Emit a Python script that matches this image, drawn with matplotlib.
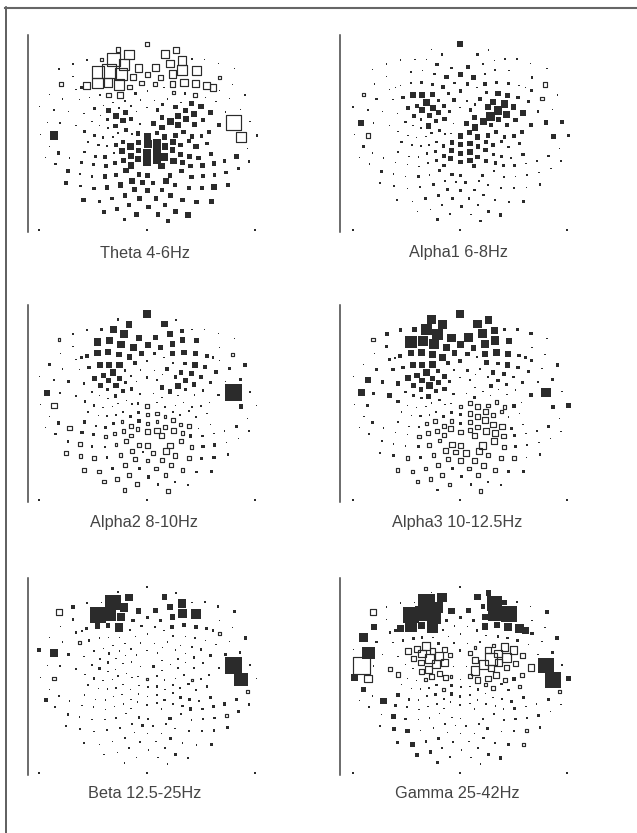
import matplotlib
matplotlib.use('Agg')
import matplotlib.pyplot as plt
import numpy as np

plt.rcParams['font.family'] = ['Liberation Sans', 'DejaVu Sans']

W, H = 637, 833
INK = '#2b2b2b'

# sensor positions, units are arbitrary (same in all six maps), y runs downwards
sensor_x = [380, 293, 466, 326, 433, 279, 485, 243, 200, 515, 553, 158,
            311, 449, 594, 355, 405, 486, 528, 232, 267, 116, 643, 302,
            339, 382, 421, 456, 158, 598, 121, 199, 231, 263, 296, 363,
            403, 456, 491, 526, 559, 637, 167, 184, 328, 381, 431, 578,
            597, 88, 127, 207, 238, 265, 298, 345, 459, 495, 524, 555, 628, 675,
            177, 314, 361, 402, 441, 481, 514, 587, 57, 102, 145, 191, 222,
            250, 278, 297, 332, 380, 426, 465, 495, 542, 570, 616, 660, 240, 265,
            287, 316, 349, 411, 425, 473, 521, 333, 308, 262, 400, 450, 496, 548,
            81, 119, 167, 215, 238, 263, 285, 360, 425, 473, 522, 595, 640, 689,
            60, 101, 193, 222, 248, 277, 293, 318, 335, 353, 381, 410, 433, 465, 490,
            515, 543, 567, 662, 709, 88, 203, 234, 261, 287, 308, 330, 355, 382,
            410, 434, 458, 480, 505, 527, 560, 682, 115, 192, 280, 305, 355, 381,
            410, 457, 480, 507, 535, 571, 648, 76, 148, 226, 255, 332, 433, 612,
            686, 105, 184, 220, 256, 283, 310, 352, 381, 410, 459, 487, 332, 580,
            423, 511, 546, 655, 143, 178, 215, 254, 287, 317, 356, 382, 449, 483,
            513, 548, 583, 618, 138, 180, 221, 260, 300, 335, 367, 398, 437, 464,
            505, 544, 581, 622, 343, 382, 424, 190, 237, 276, 314, 358, 407, 451,
            486, 528, 573, 326, 385, 435, 251, 291, 349, 413, 465, 503, 312, 442]
sensor_y = [42, 58, 60, 73, 72, 88, 92, 88, 90, 88, 88, 102,
            103, 101, 100, 114, 112, 120, 122, 126, 122, 118, 116, 132,
            142, 134, 143, 132, 140, 142, 161, 167, 159, 157, 163, 159,
            161, 161, 157, 161, 167, 163, 178, 173, 171, 183, 172, 172,
            181, 193, 207, 202, 195, 194, 194, 190, 188, 190, 195, 202, 205, 195,
            208, 212, 210, 212, 207, 217, 221, 215, 230, 240, 245, 250, 234,
            227, 218, 234, 228, 232, 223, 231, 241, 230, 248, 245, 238, 257, 241,
            257, 248, 245, 240, 262, 258, 253, 267, 272, 268, 280, 274, 268, 270,
            278, 279, 287, 275, 286, 294, 288, 281, 292, 285, 284, 284, 277, 275,
            313, 316, 304, 316, 322, 320, 309, 300, 312, 310, 318, 308, 320, 316, 306,
            320, 318, 306, 320, 316, 349, 335, 345, 347, 344, 335, 348, 337, 342,
            340, 349, 335, 344, 333, 350, 340, 355, 368, 365, 369, 363, 362, 370,
            365, 360, 373, 378, 384, 372, 378, 381, 383, 378, 381, 378, 380, 392,
            393, 401, 397, 402, 408, 399, 392, 386, 395, 390, 392, 398, 405, 400,
            407, 407, 407, 415, 423, 431, 438, 439, 434, 421, 433, 436, 436, 422,
            440, 438, 434, 427, 458, 467, 474, 471, 464, 452, 456, 458, 452, 465,
            474, 474, 471, 463, 477, 480, 480, 509, 514, 505, 495, 505, 505, 495,
            509, 515, 513, 524, 530, 524, 544, 537, 552, 552, 544, 554, 569, 572]

# magnitude per sensor, negative values are the open squares
theta = [-12, -12, -16, -26, -22, -36, -24, -8, 3, 6, 3, 2,
         -28, -20, 1, -20, -18, -26, -24, -32, -38, 5, 3, -30,
         -16, -12, -12, -20, 3, -7, -10, -20, -28, -24, -28, -12,
         -10, -15, -20, -20, -18, 3, 2, 7, -12, 3, 3, -18,
         4, 2, 4, 4, 5, -12, -16, 8, -7, 6, -10, 3, 3, 6,
         1, 5, 3, 3, 3, 5, 14, 2, 3, 6, 1, 1, 8,
         3, 3, 5, 6, 3, 7, 12, 14, 14, 13, 4, 4, 3, 12,
         15, 13, 3, 9, 12, 18, 16, 10, 14, 7, 13, 18, 16, 9,
         2, 1, 2, 2, 4, 6, 12, 6, 15, 16, 13, 10, -40, 2,
         1, 22, 9, 7, 8, 6, 7, 10, 6, 12, 18, 12, 15, 14, 12,
         13, 9, 10, -28, 6, 2, 6, 7, 6, 9, 10, 18, 14, 22,
         22, 18, 15, 12, 10, 14, 10, 2, 9, 7, 6, 15, 14, 22,
         20, 15, 13, 14, 12, 10, 14, 2, 3, 7, 10, 16, 20, 9,
         7, 7, 8, 9, 11, 11, 14, 16, 22, 22, 18, 13, 18, 11,
         18, 12, 13, 8, 10, 6, 7, 12, 11, 15, 13, 13, 13, 12,
         12, 10, 9, 10, 10, 7, 9, 13, 14, 14, 13, 12, 14, 12,
         10, 10, 15, 11, 12, 12, 10, 12, 9, 10, 13, 13, 12, 12,
         12, 12, 14, 11, 12, 10, 11, 10, 12, 12, 12, 14, 8, 11]
alpha1 = [16, 3, 1, 7, 8, 1, 1, 4, 3, 5, 5, 3,
          10, 6, 3, 7, 11, 2, 2, 3, 1, 2, 1, 7,
          11, 12, 12, 6, 2, 6, 5, 3, 5, 9, 7, 7,
          10, 10, 9, 9, 3, -12, 3, 3, 9, 9, 4, 3,
          8, -10, 6, 10, 16, 16, 13, 10, 8, 14, 13, 10, -10, 4,
          3, 9, 11, 5, 12, 16, 20, 9, 5, 6, 1, 3, 12,
          12, 18, 16, 12, 5, 7, 16, 22, 16, 16, 7, 2, 10, 16,
          13, 14, 9, 9, 14, 24, 17, 12, 11, 7, 15, 19, 13, 12,
          16, 2, 3, 7, 3, 5, 15, 3, 17, 11, 11, 10, 12, 12,
          1, -12, 5, 4, 3, 3, 7, 8, 4, 3, 15, 13, 15, 13, 10,
          10, 9, 11, 13, 7, 6, 7, 5, 6, 5, 7, 10, 12, 14,
          15, 11, 12, 10, 8, 7, 9, 4, 3, 6, 7, 8, 14, 12,
          16, 12, 8, 8, 4, 9, 6, 3, 2, 2, 4, 10, 12, 5,
          5, 2, 1, 3, 3, 4, 8, 14, 12, 14, 9, 9, 9, 2,
          10, 8, 8, 5, 7, 1, 1, 8, 3, 8, 9, 9, 9, 6,
          5, 3, 5, 5, 5, 3, 2, 5, 8, 7, 6, 8, 7, 6,
          6, 6, 4, 7, 9, 8, 6, 6, 3, 8, 8, 8, 7, 6,
          7, 7, 8, 5, 8, 6, 3, 4, 5, 4, 8, 9, 8, 6]
alpha2 = [20, 7, 6, 17, 17, 19, 11, 7, 3, 3, 3, 7,
          22, 15, 3, 16, 15, 14, 12, 20, 20, -6, 2, 19,
          18, 16, 14, 15, 3, 2, 4, 10, 17, 16, 15, 13,
          8, 14, 14, 14, 10, -7, 3, 7, 15, 5, 4, 8,
          3, 9, 2, 10, 16, 16, 17, 11, 5, 10, 18, 11, 8, 11,
          3, 8, 4, 3, 10, 11, 14, 10, 2, 6, 7, 8, 14,
          13, 18, 14, 7, 6, 3, 9, 14, 12, 8, 3, 9, 13, 15,
          14, 9, 3, 5, 11, 17, 11, 9, 10, 9, 2, 11, 7, 8,
          16, 2, 5, 7, 3, 3, 9, 5, 3, 3, 4, 7, 44, 4,
          1, -15, 6, 6, 2, 2, 3, 2, 6, 7, -10, 3, 6, 2, 3,
          5, 5, 2, 13, 1, 3, 5, 3, 6, 4, 6, 8, 9, -8,
          -10, -8, 5, 5, 5, 4, 2, 2, 9, 9, 7, -8, 10, -8,
          -8, -10, -9, -10, 2, 2, 8, 2, -12, 6, 8, -11, -10, 3,
          5, 7, 10, 9, -7, -9, -9, -9, -13, -14, -13, -9, -9, 5,
          -13, 9, 7, 3, 7, -11, 8, 5, -8, -11, -11, -12, -14, -11,
          -9, 9, 9, 3, -10, -9, -10, 7, -9, -9, 6, -10, -14, -13,
          -10, 7, 9, 6, -10, -9, -10, -11, -10, 7, -11, 9, -9, -10,
          -9, 7, 9, -10, 9, -9, -9, -10, -10, 8, 6, 6, -9, -10]
alpha3 = [19, 24, 19, 24, 22, 30, 20, 14, 9, 8, 8, 11,
          30, 23, 10, 23, 24, 24, 16, 34, 27, -10, 2, 26,
          20, 20, 15, 23, 9, 4, 2, 11, 16, 19, 20, 15,
          12, 17, 18, 15, 9, 3, 9, 5, 19, 10, 5, 8,
          9, 2, 8, 10, 15, 16, 19, 11, 13, 10, 15, 10, 3, 9,
          9, 10, 5, 7, 3, 11, 11, 7, 2, 15, 10, 11, 15,
          14, 18, 14, 14, 2, 3, 7, 10, 6, 7, 5, 10, 14, 15,
          18, 14, 7, 6, 3, 10, 10, 11, 11, 12, 2, 2, 4, 3,
          18, 8, 13, 6, 8, 7, 13, 6, 8, 3, 3, 11, 26, 1,
          1, 8, 10, 3, 1, 1, 4, 7, 3, 4, -8, -9, -14, -10, -9,
          -10, 9, 2, 11, 12, 5, 4, 2, 7, 4, 6, 8, 9, 8,
          -11, -14, -14, -12, -8, 2, 2, 2, 8, 5, -8, -11, -9, 7,
          -11, -16, -15, -14, 9, 2, 7, 2, 2, 3, 5, -11, -12, 5,
          3, 5, 2, 3, -9, -11, -12, -13, -12, -12, -17, -16, -11, 2,
          -13, -12, 8, 3, 6, 1, 4, 8, -10, -7, -14, -13, -18, -14,
          -11, 7, 3, 5, 7, 8, -10, 7, -10, -13, -12, -14, -16, -12,
          -11, -10, 3, 6, -11, -12, -12, -9, -9, -9, -10, 8, -10, -12,
          -10, 8, 8, -9, 8, -10, -10, -10, -9, 7, 6, 5, 6, -10]
beta = [3, 5, 5, 20, 14, 42, 24, 3, 2, 3, 6, 9,
        24, 16, 6, 14, 12, 24, 26, 42, 38, -16, 7, 22,
        10, 7, 7, 15, 7, 2, 4, 7, 15, 12, 22, 7,
        5, 10, 11, 11, 7, 1, 6, 5, 6, 2, 2, 8,
        -7, 2, 2, 6, 3, 3, 3, 2, 6, 3, 6, 4, 3, 9,
        -7, 2, 1, 2, 3, 2, 5, 2, 10, 22, 8, 5, 6,
        3, 2, 2, 1, 4, 2, 2, 2, 7, 7, 7, 6, 6, 6,
        2, 1, 4, 3, 4, 1, 7, 3, 1, 6, 7, 2, 3, 7,
        3, 3, 6, 7, 8, 2, 3, 1, 3, 5, 6, 6, 44, 6,
        2, -9, 5, 6, 5, 2, 5, 1, 2, 2, -6, 4, 4, 3, 5,
        -7, 6, 6, 35, 2, 2, 7, 2, 3, 3, 2, 2, 5, 5,
        6, 2, 6, 6, 7, 5, 7, -9, 5, 4, 3, 2, 3, 3,
        6, 6, 7, 7, 5, 7, 7, 10, 2, 3, 4, 2, 7, 9,
        8, 5, 5, 4, 3, 2, 2, 2, 5, 4, 6, 7, 2, 8,
        2, 9, 7, 7, 7, 2, 3, 3, 3, 2, 7, 5, 9, 6,
        3, 6, 7, -7, 5, 6, 2, 5, 5, 5, 7, 2, 6, 4,
        5, 5, 7, 7, 3, 3, 3, 5, 3, 4, 6, 5, 4, 7,
        4, 4, 7, 6, 3, 5, 2, 2, 4, 4, 7, 6, 3, 1]
gamma = [2, 2, 14, 26, 17, 44, 40, 3, 2, 14, 6, 2,
         30, 12, 4, 18, 14, 40, 44, 44, 40, -16, 10, 38,
         10, 7, 9, 18, 2, 2, 16, 18, 32, 18, 30, 2,
         3, 18, 16, 22, 24, 2, 6, 8, 7, 3, 6, 18,
         10, 22, 6, 6, 8, 7, 3, 4, 2, 7, 7, 7, 3, 11,
         2, 7, 5, 2, 7, -7, -20, 3, 1, 34, 2, 5, -17,
         -16, -22, -15, -14, 6, -7, -15, -20, -20, -14, 3, 7, -14, -20,
         -25, -20, -10, -12, -16, -32, -24, -18, -20, -14, 3, -24, -18, -14,
         -45, 1, -10, 3, 3, -13, -19, 3, -22, -17, -13, -18, 42, 7,
         18, -20, -11, 3, 1, -8, -13, -13, -13, -7, 3, -11, -15, -14, -16,
         -11, 9, -12, 42, 12, 15, 2, 2, 3, 5, 7, -9, 8, 6,
         5, 6, -8, -9, 7, 6, -7, -9, 1, 10, 5, 9, 9, 6,
         5, 3, 5, 6, 8, 8, 9, 1, 17, 7, 4, 5, 2, 3,
         1, 6, 9, 6, 3, 2, 3, 3, 5, 3, 3, 3, 3, 2,
         3, 3, 8, 3, 2, 13, 6, 2, 1, 1, 1, 2, 5, 4,
         4, 6, 4, 7, 7, 10, 11, 4, 4, 5, 3, 3, 6, 9,
         3, 6, -7, 7, 3, 3, 3, 8, 13, 6, 7, 5, 3, 6,
         3, 8, -9, 7, 4, 4, 11, 10, 6, 3, 8, 9, 8, 1]

titles = ['Theta 4-6Hz', 'Alpha1 6-8Hz', 'Alpha2 8-10Hz',
          'Alpha3 10-12.5Hz', 'Beta 12.5-25Hz', 'Gamma 25-42Hz']
maps = [theta, alpha1, alpha2, alpha3, beta, gamma]
tick_x = [-324, 0, 324]

# spine px, centre px, half range px, top px, title x px, title y px
panels = [(28, 147, 108, 35, 145, 253),
          (340, 460, 107, 35, 458, 253),
          (28, 147, 108, 305, 144, 523),
          (340, 460, 107, 305, 457, 523),
          (28, 147, 108, 578, 145, 794),
          (340, 460, 107, 578, 457, 794)]


def draw_map(fig, values, spine, centre, half, top, title, tx, ty):
    width = 2 * (centre - spine)
    height = 197
    ax = fig.add_axes([spine / W, 1 - (top + height) / H, width / W, height / H])
    lim = 324 * (centre - spine) / half
    ax.set_xlim(-lim, lim)
    ax.set_ylim(605, 15)
    for name in ['top', 'right', 'bottom']:
        ax.spines[name].set_visible(False)
    ax.spines['left'].set_linewidth(1.1)
    ax.spines['left'].set_color('#444444')
    ax.set_xticks([])
    ax.set_yticks([])
    ax.patch.set_alpha(0)

    xs = np.array(sensor_x) - 380
    ys = np.array(sensor_y)
    vals = np.array(values)
    side = np.maximum(np.abs(vals) / 3 * 1.12, 1.3) * 0.72  # px to pt, tiny ones stay visible
    solid = vals > 0
    ax.scatter(xs[solid], ys[solid], s=side[solid] ** 2, marker='s', color=INK, linewidths=0)
    ax.scatter(xs[~solid], ys[~solid], s=side[~solid] ** 2, marker='s',
               facecolors='none', edgecolors=INK, linewidths=0.85)
    ax.scatter(tick_x, [600] * 3, s=1.5, marker='s', color=INK, linewidths=0)
    fig.text(tx / W, 1 - ty / H, title, ha='center', va='center', fontsize=11.7, color='#444444')


fig = plt.figure(figsize=(W / 100, H / 100), dpi=100)
# page border, left and top only
fig.add_artist(plt.Line2D([5.5 / W, 5.5 / W], [0, 1 - 7 / H], color='#333333', lw=1.1))
fig.add_artist(plt.Line2D([5 / W, 636 / W], [1 - 7.5 / H, 1 - 7.5 / H], color='#666666', lw=1.5))

for values, p, title in zip(maps, panels, titles):
    draw_map(fig, values, p[0], p[1], p[2], p[3], title, p[4], p[5])

fig.savefig('out.png', dpi=100)
